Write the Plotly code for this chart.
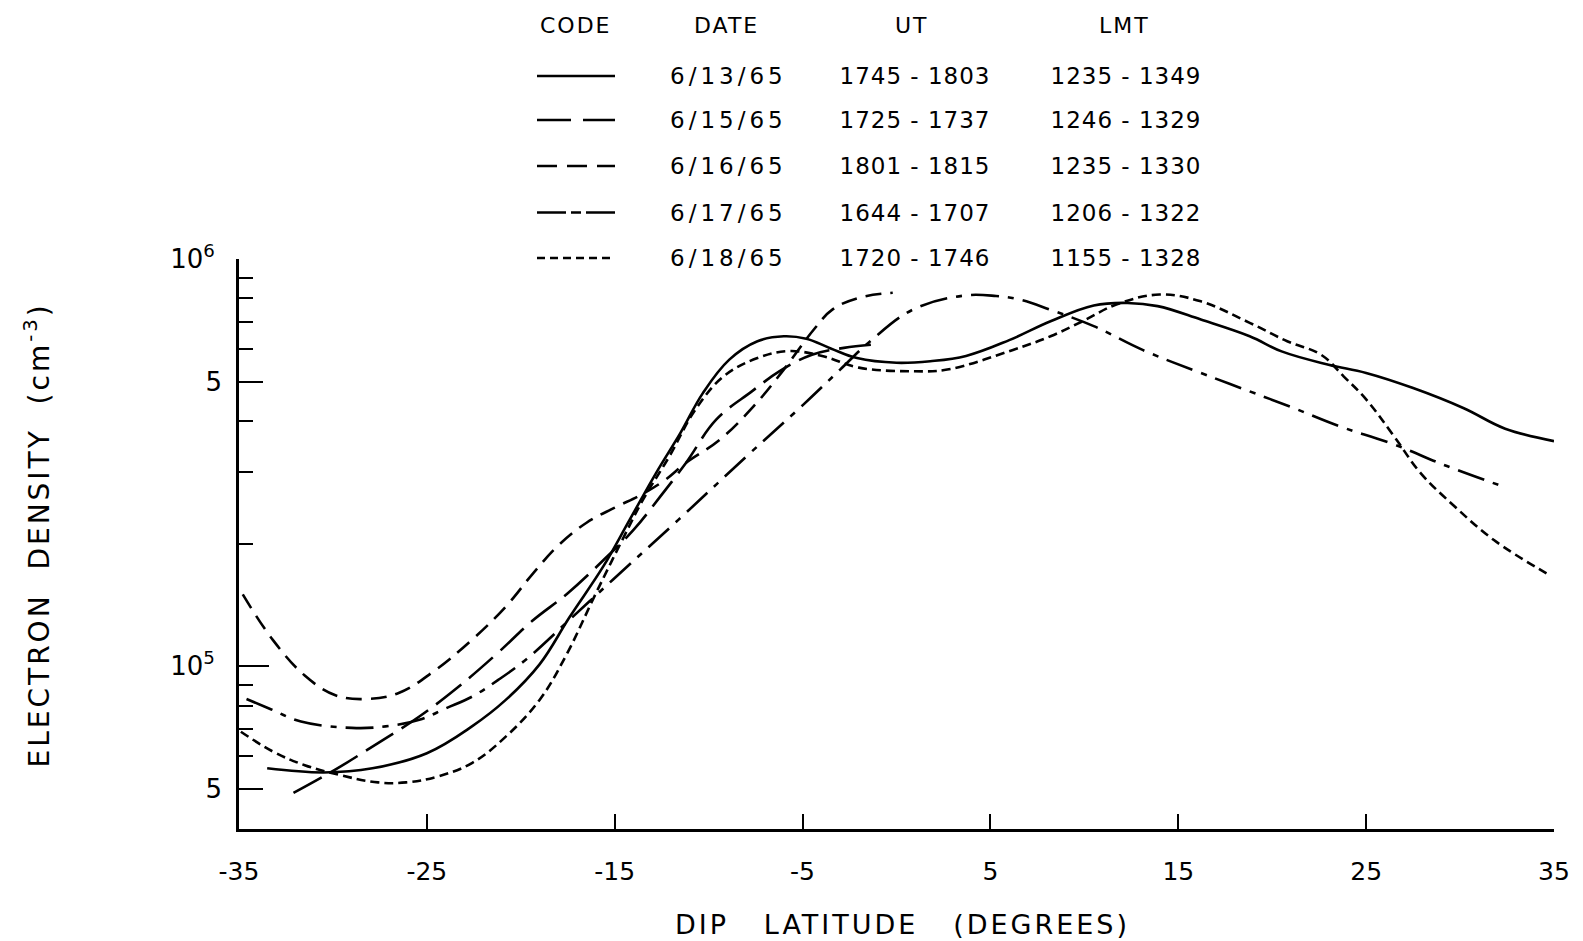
import plotly.graph_objects as go
import numpy as np

# ---------------- data ----------------
lat_0613 = [-33.5, -30.5, -27.9, -25.0, -22.6, -20.8, -19.0, -17.4, -15.6, -14.2, -12.8, -11.5,
            -10.3, -8.9, -7.4, -6.0, -4.8, -3.5, -2.1, 0.0, 1.8, 3.7, 6.0, 8.2, 10.5, 12.3,
            13.9, 16.2, 18.8, 20.5, 23.0, 25.0, 27.5, 30.2, 32.4, 35.0]
ne_0613 = [5.61e4, 5.48e4, 5.61e4, 6.11e4, 7.11e4, 8.26e4, 1.01e5, 1.32e5, 1.76e5, 2.29e5, 2.98e5, 3.74e5,
           4.69e5, 5.66e5, 6.28e5, 6.46e5, 6.37e5, 6.03e5, 5.71e5, 5.56e5, 5.61e5, 5.78e5, 6.32e5, 7.03e5,
           7.69e5, 7.80e5, 7.66e5, 7.10e5, 6.46e5, 5.93e5, 5.50e5, 5.25e5, 4.82e5, 4.30e5, 3.83e5, 3.57e5]

lat_0615 = [-32.1, -29.9, -27.6, -25.4, -23.3, -21.2, -19.4, -17.5, -15.5, -14.0, -12.6, -11.2,
            -9.6, -7.7, -6.2, -4.5, -2.8, -1.1]
ne_0615 = [4.88e4, 5.56e4, 6.47e4, 7.52e4, 8.91e4, 1.08e5, 1.29e5, 1.51e5, 1.84e5, 2.16e5, 2.60e5, 3.16e5,
           4.03e5, 4.73e5, 5.31e5, 5.82e5, 6.05e5, 6.17e5]

lat_0616 = [-34.8, -33.2, -31.5, -29.9, -28.3, -26.5, -24.7, -22.6, -20.8, -19.3, -18.0, -16.5,
            -15.0, -13.5, -12.3, -11.2, -9.4, -7.6, -6.0, -4.4, -3.4, -1.95, -0.2]
ne_0616 = [1.50e5, 1.16e5, 9.48e4, 8.49e4, 8.30e4, 8.59e4, 9.66e4, 1.16e5, 1.40e5, 1.70e5, 1.98e5, 2.25e5,
           2.45e5, 2.65e5, 2.87e5, 3.16e5, 3.60e5, 4.35e5, 5.35e5, 6.71e5, 7.52e5, 8.04e5, 8.26e5]

lat_0617 = [-34.6, -33.4, -31.7, -29.0, -27.2, -25.4, -24.0, -22.6, -21.2, -19.7, -17.4, -15.1,
            -11.6, -8.0, -5.0, -3.0, -1.4, 0.9, 3.6, 5.3, 6.6, 8.2, 10.5, 13.1, 16.2, 18.8,
            21.0, 23.6, 26.3, 29.3, 32.5]
ne_0617 = [8.3e4, 7.87e4, 7.31e4, 7.05e4, 7.11e4, 7.38e4, 7.87e4, 8.41e4, 9.25e4, 1.04e5, 1.30e5, 1.63e5,
           2.29e5, 3.27e5, 4.37e5, 5.35e5, 6.28e5, 7.52e5, 8.13e5, 8.11e5, 7.94e5, 7.50e5, 6.84e5, 5.98e5,
           5.25e5, 4.73e5, 4.33e5, 3.88e5, 3.53e5, 3.10e5, 2.74e5]

lat_0618 = [-34.9, -33.2, -31.5, -29.7, -27.6, -26.1, -24.4, -22.6, -20.8, -19.0, -17.6, -16.0,
            -14.6, -13.5, -12.1, -10.7, -9.2, -7.4, -5.7, -3.9, -2.0, 0.9, 2.7, 6.2, 8.2, 9.9,
            11.7, 14.0, 16.2, 18.8, 20.8, 22.6, 23.8, 25.0, 26.5, 27.9, 29.7, 31.8, 34.6]
ne_0618 = [6.90e4, 6.17e4, 5.71e4, 5.41e4, 5.18e4, 5.18e4, 5.36e4, 5.78e4, 6.71e4, 8.26e4, 1.06e5, 1.51e5,
           2.04e5, 2.56e5, 3.27e5, 4.27e5, 5.15e5, 5.71e5, 5.94e5, 5.77e5, 5.41e5, 5.30e5, 5.35e5, 5.98e5,
           6.46e5, 7.03e5, 7.73e5, 8.18e5, 7.87e5, 6.97e5, 6.28e5, 5.82e5, 5.15e5, 4.52e5, 3.66e5, 2.98e5,
           2.47e5, 2.04e5, 1.69e5]

dates = ["6/13/65", "6/15/65", "6/16/65", "6/17/65", "6/18/65"]
ut = ["1745 - 1803", "1725 - 1737", "1801 - 1815", "1644 - 1707", "1720 - 1746"]
lmt = ["1235 - 1349", "1246 - 1329", "1235 - 1330", "1206 - 1322", "1155 - 1328"]
headers = ["CODE", "DATE", "UT", "LMT"]

x_ticks = [-35, -25, -15, -5, 5, 15, 25, 35]
x_ticktext = ["-35", "-25", "-15", "-5", "5", "15", "25", "35"]
y_major = [1e5, 1e6]
y_major_text = ["10<sup>5</sup>", "10<sup>6</sup>"]
y_half = [5e4, 5e5]
y_half_text = ["5", "5"]
y_minor = [6e4, 7e4, 8e4, 9e4, 2e5, 3e5, 4e5, 6e5, 7e5, 8e5, 9e5]

lats = [lat_0613, lat_0615, lat_0616, lat_0617, lat_0618]
nes = [ne_0613, ne_0615, ne_0616, ne_0617, ne_0618]

# ---------------- styles ----------------
dashes = ["solid", "32px,10px", "16px,9px", "28px,9px,6px,9px", "9px,5px"]
legend_dashes = ["solid", "34px,12px", "20px,10px", "29px,5px,10px,5px", "8px,5px"]
FONT = "DejaVu Sans"
W, H = 1583, 941
L, R, T, B = 239, 29, 259, 112
PW, PH = W - L - R, H - T - B


def px_x(x):
    return (x - L) / PW


def px_y(y):
    return (H - B - y) / PH


fig = go.Figure()
for i, (la, ne, d) in enumerate(zip(lats, nes, dashes)):
    fig.add_trace(go.Scatter(
        x=la, y=ne, mode="lines", name=dates[i],
        line=dict(color="black", width=2.6, dash=d, shape="spline", smoothing=1.1),
        yaxis="y2" if i == 4 else "y",
        hoverinfo="skip",
    ))

yrange = [np.log10(3.98e4), 6.0]
fig.update_layout(
    width=W, height=H,
    margin=dict(l=L, r=R, t=T, b=B, pad=0),
    paper_bgcolor="white", plot_bgcolor="white",
    showlegend=False,
    font=dict(family=FONT, color="black", size=24),
    xaxis=dict(range=[-35, 35], tickmode="array", tickvals=x_ticks, ticktext=x_ticktext,
               ticks="inside", ticklen=15, tickwidth=2, tickcolor="black",
               showline=True, linecolor="black", linewidth=2.8, mirror=False,
               showgrid=False, zeroline=False, ticklabelstandoff=18,
               tickfont=dict(family=FONT, size=25, color="black")),
    yaxis=dict(type="log", range=yrange, tickmode="array", tickvals=y_major, ticktext=y_major_text,
               ticks="inside", ticklen=30, tickwidth=2, tickcolor="black",
               showline=True, linecolor="black", linewidth=2.8,
               showgrid=False, zeroline=False, ticklabelstandoff=16,
               tickfont=dict(family=FONT, size=26, color="black"),
               minor=dict(tickmode="array", tickvals=y_minor, ticks="inside", ticklen=14,
                          tickwidth=2, tickcolor="black", showgrid=False)),
    yaxis2=dict(type="log", range=yrange, overlaying="y", side="left", anchor="x",
                tickmode="array", tickvals=y_half, ticktext=y_half_text,
                ticks="inside", ticklen=24, tickwidth=2, tickcolor="black",
                showline=False, showgrid=False, zeroline=False, ticklabelstandoff=16,
                tickfont=dict(family=FONT, size=26, color="black")),
)

annotations = []
shapes = []
# axis titles
annotations.append(dict(text="DIP\u00a0\u00a0\u00a0LATITUDE\u00a0\u00a0\u00a0(DEGREES)",
                        x=px_x(902), y=px_y(924), xref="paper", yref="paper",
                        xanchor="center", yanchor="middle", showarrow=False,
                        font=dict(family=FONT, size=27, color="black")))
annotations.append(dict(text="ELECTRON\u00a0\u00a0DENSITY\u00a0\u00a0(cm<sup>-3</sup>)",
                        x=px_x(37), y=px_y(535), xref="paper", yref="paper",
                        xanchor="center", yanchor="middle", showarrow=False, textangle=-90,
                        font=dict(family=FONT, size=28, color="black")))
# legend table
header_x = [576, 726, 912, 1124]
col_x = [728, 915, 1126]
row_y = [76, 120, 166, 212.5, 258]
for hx, htxt in zip(header_x, headers):
    annotations.append(dict(text=htxt, x=px_x(hx), y=px_y(25), xref="paper", yref="paper",
                            xanchor="center", yanchor="middle", showarrow=False,
                            font=dict(family=FONT, size=22, color="black")))
for i in range(5):
    for cx, txt in zip(col_x, [dates[i], ut[i], lmt[i]]):
        annotations.append(dict(text=txt, x=px_x(cx), y=px_y(row_y[i]), xref="paper", yref="paper",
                                xanchor="center", yanchor="middle", showarrow=False,
                                font=dict(family=FONT, size=23, color="black")))
    shapes.append(dict(type="line", xref="paper", yref="paper",
                       x0=px_x(537), x1=px_x(615), y0=px_y(row_y[i]), y1=px_y(row_y[i]),
                       line=dict(color="black", width=2.4, dash=legend_dashes[i])))

fig.update_layout(annotations=annotations, shapes=shapes)

post = """
var gd = document.getElementById('{plot_id}');
function ls(){
  gd.querySelectorAll('text.annotation-text').forEach(function(t){
    var s = t.textContent; var v = '3px';
    if (s.indexOf('/') >= 0) v = '4px';
    else if (/[0-9] - [0-9]/.test(s)) v = '1px';
    else if (s.length < 6) v = '2px';
    t.style.letterSpacing = v;
  });
}
ls();
gd.on('plotly_afterplot', ls);
"""

fig.write_html("out.html", post_script=post)
